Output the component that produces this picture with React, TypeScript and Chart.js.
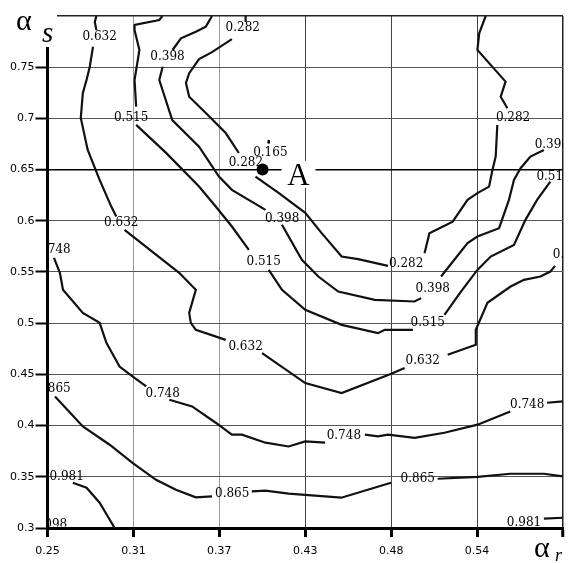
import React, { useEffect, useRef } from 'react';
import Chart from 'chart.js/auto';

type P = [number, number] | null;

const xTicks = [0.25, 0.308333, 0.366667, 0.425, 0.483333, 0.541667, 0.6];
const xTickLabels = ['0.25', '0.31', '0.37', '0.43', '0.48', '0.54', ''];
const yTicks = [0.3, 0.35, 0.4, 0.45, 0.5, 0.55, 0.6, 0.65, 0.7, 0.75, 0.8];
const yTickLabels = ['0.3', '0.35', '0.4', '0.45', '0.5', '0.55', '0.6', '0.65', '0.7', '0.75', ''];

const c282: P[] = [
  [0.3845, 0.8], [0.3845, 0.7941], null,
  [0.3752, 0.7774], [0.3617, 0.7647], [0.3529, 0.7579], [0.3462, 0.7441], [0.344, 0.7346], [0.3462, 0.7212],
  [0.3575, 0.7053], [0.371, 0.6857], [0.3799, 0.6662], null,
  [0.3912, 0.6432], [0.4069, 0.6273], [0.425, 0.6077], [0.436, 0.5882], [0.4497, 0.5651], [0.4609, 0.5625],
  [0.4812, 0.556], null,
  [0.506, 0.5684], [0.5093, 0.5879], [0.5251, 0.5992], [0.5352, 0.6204], [0.5419, 0.627], [0.5498, 0.6334],
  [0.5521, 0.6497], [0.5543, 0.6627], [0.5554, 0.6936], null,
  [0.5622, 0.7099], [0.5577, 0.7212], [0.561, 0.7359], [0.5419, 0.7668], [0.5431, 0.7831], [0.5475, 0.8],
];

const c398: P[] = [
  [0.3617, 0.8], [0.3575, 0.7896], [0.3507, 0.7847], [0.3406, 0.7782], [0.3349, 0.7668], null,
  [0.3282, 0.7505], [0.3259, 0.7375], [0.3347, 0.6983], [0.3529, 0.6724], [0.3664, 0.6432], [0.3752, 0.6302],
  [0.398, 0.6107], null,
  [0.4092, 0.5961], [0.4227, 0.5619], [0.4339, 0.5456], [0.4474, 0.5309], [0.4722, 0.5228], [0.4992, 0.5212],
  [0.5037, 0.5245], null,
  [0.5172, 0.5456], [0.5352, 0.5782], [0.5419, 0.5846], [0.5566, 0.5928], [0.5633, 0.6204], [0.5667, 0.6399],
  [0.5712, 0.6514], [0.5779, 0.6627], [0.587, 0.6692],
];

const c515: P[] = [
  [0.328, 0.8], [0.3259, 0.7961], [0.3091, 0.7912], [0.3091, 0.7863], [0.3124, 0.7668], [0.3091, 0.7375],
  [0.3102, 0.7115], null,
  [0.3102, 0.6937], [0.3305, 0.6663], [0.3529, 0.6334], [0.3642, 0.6139], [0.3752, 0.5944], [0.3867, 0.5716], null,
  [0.4002, 0.5521], [0.4092, 0.5326], [0.425, 0.5131], [0.4497, 0.4984], [0.4744, 0.4903], [0.479, 0.4935],
  [0.4981, 0.4935], null,
  [0.5195, 0.5082], [0.5307, 0.5309], [0.5419, 0.5521], [0.5509, 0.5651], [0.5667, 0.5765], [0.5745, 0.6009],
  [0.5824, 0.6204], [0.5914, 0.6383],
];

const c632: P[] = [
  [0.2832, 0.8], [0.2821, 0.7941], [0.2832, 0.7863], null,
  [0.2809, 0.77], [0.2787, 0.7505], [0.2765, 0.7375], [0.274, 0.7249], [0.2726, 0.7005], [0.2773, 0.6692],
  [0.2854, 0.64], [0.2933, 0.6139], [0.2967, 0.6041], null,
  [0.3023, 0.5911], [0.3394, 0.5492], [0.3507, 0.5326], [0.3462, 0.5101], [0.3473, 0.5003], [0.3507, 0.4935],
  [0.371, 0.4837], null,
  [0.3957, 0.4708], [0.425, 0.4415], [0.4497, 0.4318], [0.4834, 0.4506], [0.4925, 0.4562], null,
  [0.5217, 0.4692], [0.5408, 0.4789], [0.5408, 0.4936], [0.5487, 0.5199], [0.5644, 0.5358], [0.5735, 0.5423],
  [0.5847, 0.5456], [0.5914, 0.5504], [0.5946, 0.556],
];

const c748: P[] = [
  [0.2544, 0.5638], [0.2584, 0.5492], [0.2605, 0.5326], [0.274, 0.5101], [0.2854, 0.5004], [0.29, 0.4809],
  [0.2989, 0.4577], [0.3077, 0.448], [0.317, 0.4382], null,
  [0.3327, 0.4252], [0.3482, 0.4187], [0.3642, 0.4028], [0.3752, 0.3911], [0.382, 0.3911], [0.398, 0.3833],
  [0.4137, 0.3796], [0.425, 0.3845], [0.4385, 0.3833], null,
  [0.4655, 0.3911], [0.4744, 0.3894], [0.4812, 0.3911], [0.4992, 0.3881], [0.5195, 0.393], [0.542, 0.4009],
  [0.5642, 0.4138], null,
  [0.5892, 0.4223], [0.6, 0.4236],
];

const c865: P[] = [
  [0.2551, 0.4284], [0.274, 0.3992], [0.2922, 0.3813], [0.3077, 0.3637], [0.3237, 0.3471], [0.3372, 0.3373],
  [0.3507, 0.3299], [0.3617, 0.3308], null,
  [0.3887, 0.3357], [0.398, 0.3364], [0.4137, 0.3335], [0.4495, 0.3296], [0.4832, 0.3442], null,
  [0.5149, 0.3481], [0.542, 0.35], [0.5642, 0.353], [0.587, 0.353], [0.6, 0.3504],
];

const c981: P[] = [
  [0.2672, 0.3442], [0.2765, 0.3394], [0.2854, 0.3247], [0.2956, 0.3], null,
  [0.587, 0.3091], [0.6, 0.31],
];

const c165: P[] = [[0.4002, 0.678], [0.4002, 0.6765]];

const contourLabelText = [
  '0.632', '0.632', '0.632', '0.632', '0.632',
  '0.515', '0.515', '0.515', '0.515',
  '0.398', '0.398', '0.398', '0.398',
  '0.282', '0.282', '0.282', '0.282',
  '0.165',
  '0.748', '0.748', '0.748', '0.748',
  '0.865', '0.865', '0.865',
  '0.981', '0.981',
  '1.098',
];
const contourLabelX = [
  0.2854, 0.3001, 0.3845, 0.5048, 0.6047,
  0.3068, 0.3968, 0.5082, 0.5936,
  0.3315, 0.4093, 0.5116, 0.5924,
  0.3826, 0.3847, 0.4935, 0.5661,
  0.4013,
  0.2541, 0.3282, 0.4512, 0.5757,
  0.2541, 0.3754, 0.5014,
  0.263, 0.5735,
  0.2517,
];
const contourLabelY = [
  0.7798, 0.598, 0.4772, 0.4636, 0.5667,
  0.7002, 0.5602, 0.5001, 0.6432,
  0.7603, 0.6019, 0.5339, 0.6741,
  0.788, 0.6562, 0.5577, 0.7002,
  0.6666,
  0.5716, 0.4311, 0.3904, 0.4203,
  0.436, 0.3335, 0.3481,
  0.3504, 0.3049,
  0.3032,
];

const pointA = { x: 0.396, y: 0.65 };
const labelA = { text: 'A', x: 0.4204, y: 0.6458 };

const toData = (pts: P[]) => {
  const out: { x: number; y: number | null }[] = [];
  let last = 0.25;
  for (const p of pts) {
    if (p) {
      out.push({ x: p[0], y: p[1] });
      last = p[0];
    } else {
      out.push({ x: last, y: null });
    }
  }
  return out;
};

const overlay = {
  id: 'overlay',
  afterDatasetsDraw(chart: any) {
    const { ctx, chartArea: a, scales } = chart;
    const x = scales.x, y = scales.y;
    ctx.save();
    ctx.beginPath();
    ctx.rect(a.left + 1.5, a.top, a.right - a.left - 1.5, a.bottom - a.top - 1.5);
    ctx.clip();
    ctx.font = '12px "DejaVu Serif"';
    ctx.fillStyle = '#000';
    ctx.textAlign = 'center';
    ctx.textBaseline = 'middle';
    for (let i = 0; i < contourLabelText.length; i++) {
      ctx.fillText(contourLabelText[i], x.getPixelForValue(contourLabelX[i]), y.getPixelForValue(contourLabelY[i]));
    }
    ctx.restore();

    ctx.save();
    const ax = x.getPixelForValue(labelA.x);
    const ay = y.getPixelForValue(labelA.y);
    ctx.fillStyle = '#fff';
    ctx.fillRect(ax - 17, ay - 13, 34, 27);
    ctx.fillStyle = '#000';
    ctx.font = '31px "Liberation Serif"';
    ctx.textAlign = 'center';
    ctx.textBaseline = 'alphabetic';
    ctx.fillText(labelA.text, ax, ay + 11);

    // axis titles
    ctx.fillStyle = '#fff';
    ctx.fillRect(0, 0, 57, 47);
    ctx.fillStyle = '#000';
    ctx.textAlign = 'left';
    ctx.font = '30px "Liberation Serif"';
    ctx.fillText('α', 16, 30);
    ctx.font = 'italic 29px "Liberation Serif"';
    ctx.fillText('s', 42, 42);
    ctx.font = '30px "Liberation Serif"';
    ctx.fillText('α', 534, 557);
    ctx.font = 'italic 18px "Liberation Serif"';
    ctx.fillText('r', 555, 561);
    ctx.restore();
  },
};

export default function App() {
  const ref = useRef<HTMLCanvasElement | null>(null);
  useEffect(() => {
    if (!ref.current) return;
    const lineDs = (pts: P[]) => ({
      data: toData(pts),
      showLine: true,
      borderColor: '#111',
      borderWidth: 2.2,
      pointRadius: 0,
      spanGaps: false,
      tension: 0,
    });
    const chart = new Chart(ref.current, {
      type: 'scatter',
      data: {
        datasets: [
          lineDs(c282),
          lineDs(c398),
          lineDs(c515),
          lineDs(c632),
          lineDs(c748),
          lineDs(c865),
          lineDs(c981),
          { data: toData(c165), showLine: false, pointRadius: 1.3, backgroundColor: '#000', borderWidth: 0 } as any,
          { data: [pointA], showLine: false, pointRadius: 6, backgroundColor: '#000', borderColor: '#000', borderWidth: 0 } as any,
        ],
      },
      options: {
        animation: false,
        responsive: false,
        devicePixelRatio: 1,
        layout: { padding: { top: 16, right: 5, left: 0, bottom: 0 } },
        plugins: { legend: { display: false }, tooltip: { enabled: false } },
        scales: {
          x: {
            type: 'linear',
            min: 0.25,
            max: 0.6,
            afterBuildTicks: (s: any) => { s.ticks = xTicks.map((v) => ({ value: v })); },
            afterFit: (s: any) => { s.height = 35; },
            ticks: {
              autoSkip: false,
              maxRotation: 0,
              padding: 8,
              color: '#000',
              font: { family: 'DejaVu Sans', size: 11 },
              callback: (_v: any, i: number) => xTickLabels[i],
            },
            grid: {
              color: (c: any) => (c.index === 1 || c.index === 2 ? '#9a9a9a' : c.index === 6 ? '#222' : '#444'),
              lineWidth: (c: any) => (c.index === 6 ? 1.5 : 1),
              tickColor: '#000',
              tickLength: 9,
              tickWidth: 3,
            },
            border: { color: '#000', width: 3 },
          },
          y: {
            type: 'linear',
            min: 0.3,
            max: 0.8,
            afterBuildTicks: (s: any) => { s.ticks = yTicks.map((v) => ({ value: v })); },
            afterFit: (s: any) => { s.width = 47.5; },
            ticks: {
              autoSkip: false,
              padding: 1,
              color: '#000',
              font: { family: 'DejaVu Sans', size: 11 },
              callback: (_v: any, i: number) => yTickLabels[i],
            },
            grid: {
              color: (c: any) => (c.index === 7 ? '#000' : c.index === 10 ? '#222' : '#555'),
              lineWidth: (c: any) => (c.index === 7 || c.index === 10 ? 1.5 : 1),
              tickColor: '#000',
              tickLength: 12,
              tickWidth: 2,
            },
            border: { color: '#000', width: 3 },
          },
        },
      },
      plugins: [overlay],
    } as any);
    return () => chart.destroy();
  }, []);
  return (
    <div style={{ position: 'absolute', left: 0, top: 0, width: 571, height: 563, background: '#fff' }}>
      <canvas ref={ref} width={571} height={563} style={{ display: 'block' }} />
    </div>
  );
}
